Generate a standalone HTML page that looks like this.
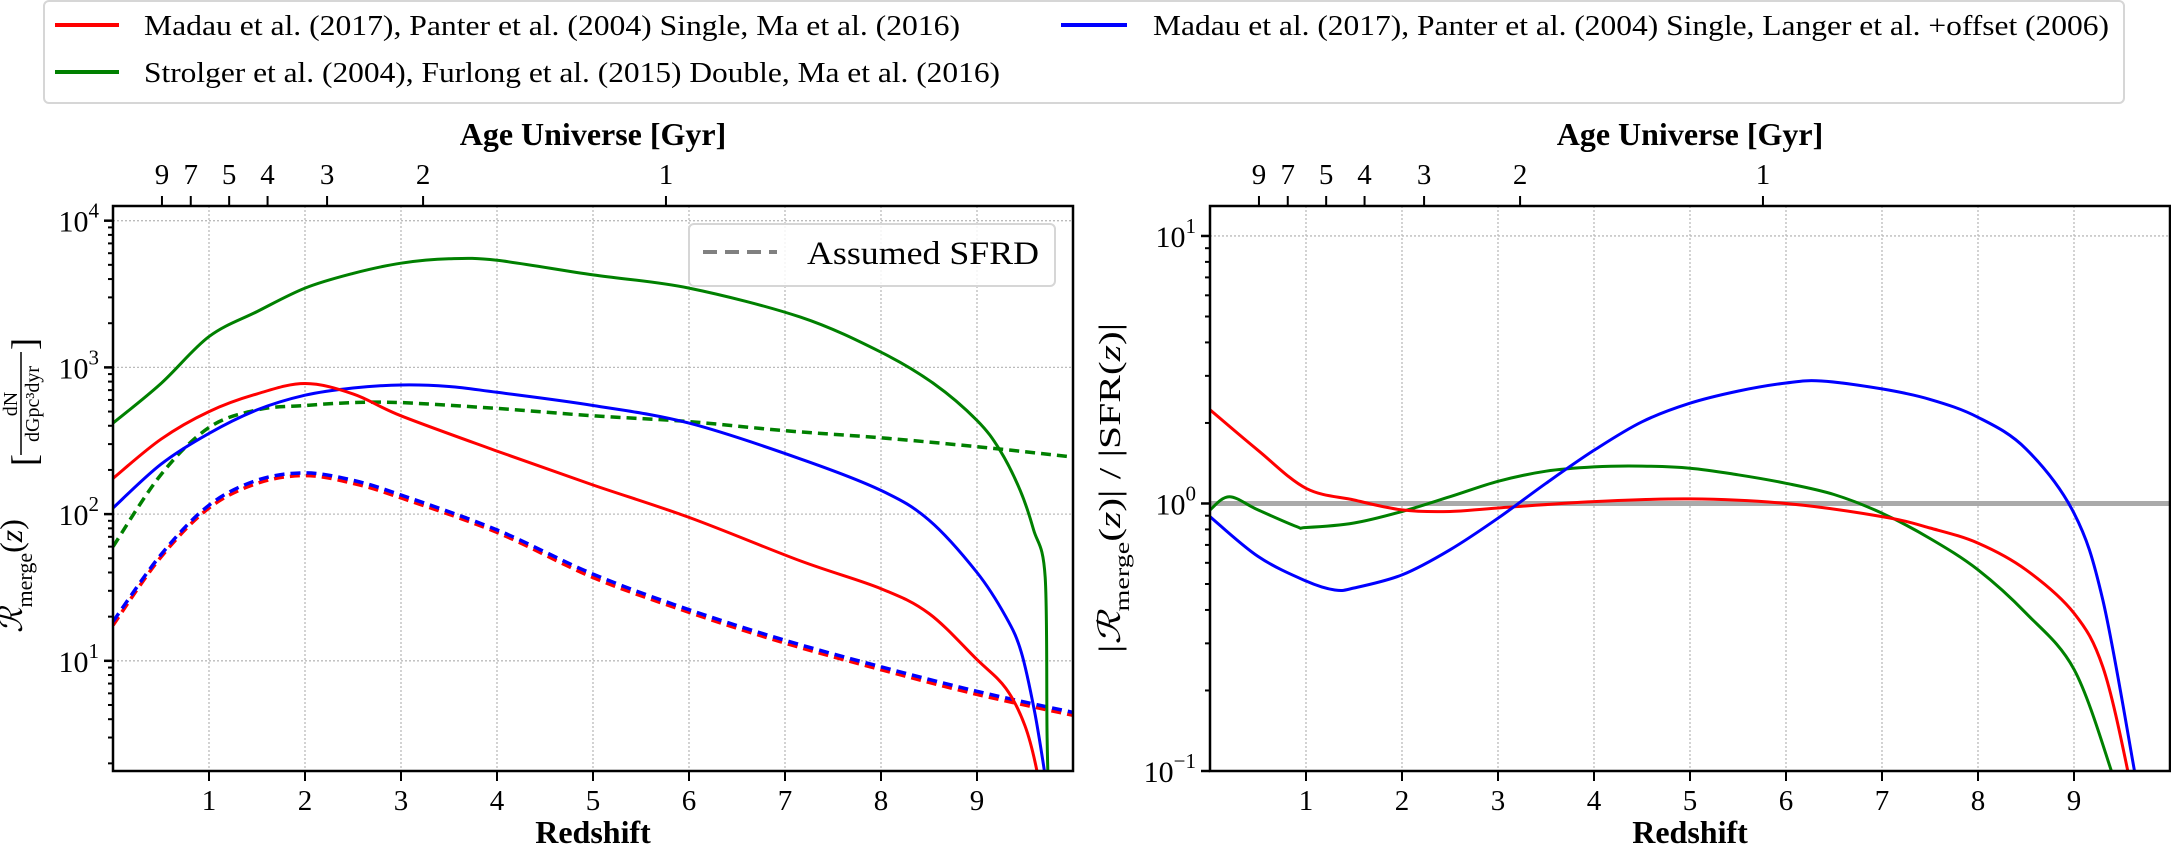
<!DOCTYPE html>
<html><head><meta charset="utf-8"><style>
html,body{margin:0;padding:0;background:#fff;}
svg{display:block;font-family:"Liberation Serif","DejaVu Serif",serif;}
</style></head><body>
<svg id="chart" width="2171" height="849" viewBox="0 0 2171 849" xmlns="http://www.w3.org/2000/svg">
<g id="legend-top">
  <rect x="44" y="1" width="2080" height="102" rx="5" fill="#fff" stroke="#d6d6d6" stroke-width="2"/>
  <line x1="55" y1="25" x2="119" y2="25" stroke="#ff0000" stroke-width="4"/>
  <text x="144" y="35" font-size="29" textLength="816" lengthAdjust="spacingAndGlyphs">Madau et al. (2017), Panter et al. (2004) Single, Ma et al. (2016)</text>
  <line x1="55" y1="72" x2="119" y2="72" stroke="#008000" stroke-width="4"/>
  <text x="144" y="82" font-size="29" textLength="856" lengthAdjust="spacingAndGlyphs">Strolger et al. (2004), Furlong et al. (2015) Double, Ma et al. (2016)</text>
  <line x1="1061" y1="25" x2="1127" y2="25" stroke="#0000ff" stroke-width="4"/>
  <text x="1153" y="35" font-size="29" textLength="956" lengthAdjust="spacingAndGlyphs">Madau et al. (2017), Panter et al. (2004) Single, Langer et al. +offset (2006)</text>
</g>
<defs>
  <clipPath id="clipL"><rect x="113" y="206" width="960" height="565"/></clipPath>
  <clipPath id="clipR"><rect x="1210" y="206" width="960" height="565"/></clipPath>
</defs>
<g id="left"></g>
<g id="right"></g>
</svg>
<script>
// ---- data ----
const zTicks = [1,2,3,4,5,6,7,8,9];
const ageLabels = ["9","7","5","4","3","2","1"];
const ageZ = [0.51,0.81,1.21,1.61,2.23,3.23,5.76];
// left panel: merger rates
const zRedSolid = [0,0.5,1,1.5,2,2.5,3,4,5,6,7.16,8,8.5,9,9.3,9.5,9.63,9.7];
const redSolid  = [175,324,500,660,776,660,468,269,158,95,48,31,21,10.2,6.5,3.6,1.7,0.8];
const zBlueSolid = [0,0.5,1,1.5,2,2.5,3,3.5,4,5,6,7.16,8,8.5,9,9.3,9.46,9.6,9.72];
const blueSolid  = [110,219,355,513,646,724,759,741,676,550,417,238,145,91,40,20,11.5,4.5,1.5];
const zGreenSolid = [0,0.5,1,1.5,2,2.5,3,3.5,4,5,6,7.16,8,8.55,9,9.24,9.45,9.59,9.71,9.73,9.75];
const greenSolid  = [417,776,1620,2400,3470,4370,5130,5500,5370,4270,3470,2200,1270,775,435,272,145,78,37,3,1];
const zDash = [0,0.5,1,1.5,2,2.5,3,4,5,6,7,8,9,10];
const greenDash = [60,186,389,513,550,575,575,525,468,427,370,331,288,245];
const redDash   = [17.5,51,110,162,183,162,129,75,37,21.4,13.2,8.7,5.9,4.25];
const blueDash  = [18.5,53,115,170,191,170,135,78,39,22.3,13.8,9.1,6.2,4.45];
// right panel: ratio to SFR
const zRedRatio = [0,0.5,1,1.5,2,2.5,3,4,5,6,7,7.5,8,8.5,9,9.3,9.56,9.7];
const redRatio  = [2.24,1.58,1.14,1.03,0.946,0.933,0.962,1.016,1.04,1.0,0.893,0.81,0.711,0.565,0.389,0.245,0.1,0.05];
const zGreenRatio = [0,0.2,0.5,0.9,1,1.5,2,2.5,3,3.5,4,4.5,5,5.5,6,6.5,7,7.5,8,8.5,9,9.39,9.5];
const greenRatio  = [0.946,1.06,0.946,0.82,0.813,0.845,0.933,1.06,1.21,1.32,1.37,1.38,1.355,1.28,1.19,1.08,0.92,0.74,0.565,0.389,0.24,0.1,0.07];
const zBlueRatio = [0,0.5,1,1.3,1.5,2,2.5,3,3.5,4,4.5,5,5.5,6,6.37,7,7.5,8,8.5,9,9.3,9.63,9.7];
const blueRatio  = [0.893,0.634,0.513,0.475,0.483,0.541,0.671,0.881,1.19,1.58,2.02,2.37,2.63,2.82,2.87,2.68,2.45,2.1,1.6,0.92,0.436,0.1,0.07];
const leftDecades = [1,2,3,4];
const rightDecades = [-1,0,1];

const NS="http://www.w3.org/2000/svg";
function mk(parent,tag,attrs,txt){const e=document.createElementNS(NS,tag);for(const k in attrs)e.setAttribute(k,attrs[k]);if(txt!==undefined)e.textContent=txt;parent.appendChild(e);return e;}

function makeAxes(g,x0,x1,y0,y1,lmin,lmax){
  const sx=z=>x0+(z-0)/(10-0)*(x1-x0);
  const sy=v=>y1-(Math.log10(v)-lmin)/(lmax-lmin)*(y1-y0);
  return {sx,sy};
}
function pathFrom(zs,vs,sx,sy){
  const p=zs.map((z,i)=>[sx(z),sy(vs[i])]);
  let d="M"+p[0][0].toFixed(1)+","+p[0][1].toFixed(1);
  for(let i=0;i<p.length-1;i++){
    const p0=p[Math.max(i-1,0)],p1=p[i],p2=p[i+1],p3=p[Math.min(i+2,p.length-1)];
    const c1=[p1[0]+(p2[0]-p0[0])/6,p1[1]+(p2[1]-p0[1])/6];
    const c2=[p2[0]-(p3[0]-p1[0])/6,p2[1]-(p3[1]-p1[1])/6];
    d+=" C"+c1[0].toFixed(1)+","+c1[1].toFixed(1)+" "+c2[0].toFixed(1)+","+c2[1].toFixed(1)+" "+p2[0].toFixed(1)+","+p2[1].toFixed(1);
  }
  return d;
}
function decorate(g,x0,x1,y0,y1,sx,sy,decades,lmin,lmax,clip){
  zTicks.forEach(z=>{
    const l=mk(g,"line",{x1:sx(z),x2:sx(z),y1:y0,y2:y1,stroke:"#bbb","stroke-width":1.3,"stroke-dasharray":"2,2"});
    
    
  });
  decades.forEach(dd=>{
    const y=sy(Math.pow(10,dd)); if(y<y0-1||y>y1+1) return;
    const l=mk(g,"line",{x1:x0,x2:x1,y1:y,y2:y,stroke:"#bbb","stroke-width":1.3,"stroke-dasharray":"2,2"});
    
    
  });
  for(let dd=Math.floor(lmin);dd<=Math.ceil(lmax);dd++){
    for(let m=1;m<10;m++){
      const v=m*Math.pow(10,dd); const y=sy(v);
      if(y<y0-0.5||y>y1+0.5) continue;
      const len=m===1?9:5;
      const t=mk(g,"line",{x1:x0-len,x2:x0,y1:y,y2:y,stroke:"#000","stroke-width":m===1?2.5:2});
      
      
      if(m===1){
        const tx=mk(g,"text",{x:x0-14,y:y+11,"font-size":30,"text-anchor":"end"});
        
        
        mk(tx,"tspan",{},"10");
        mk(tx,"tspan",{dy:-14,"font-size":21},dd<0?"\u2212"+(-dd):String(dd));
      }
    }
  }
  zTicks.forEach(z=>{
    const t=mk(g,"line",{x1:sx(z),x2:sx(z),y1:y1,y2:y1+10,stroke:"#000","stroke-width":2});
    
    
    const tx=mk(g,"text",{x:sx(z),y:y1+39,"font-size":29,"text-anchor":"middle"},String(z));
    
    
  });
  ageZ.forEach((z,i)=>{
    const t=mk(g,"line",{x1:sx(z),x2:sx(z),y1:y0,y2:y0-10,stroke:"#000","stroke-width":2});
    
    
    const tx=mk(g,"text",{x:sx(z),y:y0-22,"font-size":29,"text-anchor":"middle"},ageLabels[i]);
    
    
  });
  const at=mk(g,"text",{x:(x0+x1)/2,y:145,"font-size":32,"font-weight":"bold","text-anchor":"middle"},"Age Universe [Gyr]");
  
  
  const xt=mk(g,"text",{x:(x0+x1)/2,y:843,"font-size":32,"font-weight":"bold","text-anchor":"middle"},"Redshift");
  
  
}
function frame(g,x0,x1,y0,y1){
  const r=mk(g,"rect",{x:x0,y:y0,width:x1-x0,height:y1-y0,fill:"none",stroke:"#000","stroke-width":2.5});
  
  
}
function series(g,zs,vs,sx,sy,color,dash,clip,name,w){
  const p=mk(g,"path",{d:pathFrom(zs,vs,sx,sy),fill:"none",stroke:color,"stroke-width":w||3,"clip-path":"url(#"+clip+")","stroke-linejoin":"round"});
  if(dash) p.setAttribute("stroke-dasharray",dash);
  
  
}

// LEFT
(function(){
  const g=document.getElementById("left");
  const x0=113,x1=1073,y0=206,y1=771;
  const lmin=0.249,lmax=4.1;
  const {sx,sy}=makeAxes(g,x0,x1,y0,y1,lmin,lmax);
  decorate(g,x0,x1,y0,y1,sx,sy,leftDecades,lmin,lmax,"clipL");
  series(g,zDash,greenDash,sx,sy,"#008000","10,6","clipL","line-green-sfrd",3.5);
  series(g,zDash,redDash,sx,sy,"#ff0000","10,6","clipL","line-red-sfrd",3.5);
  series(g,zDash,blueDash,sx,sy,"#0000ff","10,6","clipL","line-blue-sfrd",3.5);
  series(g,zGreenSolid,greenSolid,sx,sy,"#008000",null,"clipL","line-green-merger");
  series(g,zBlueSolid,blueSolid,sx,sy,"#0000ff",null,"clipL","line-blue-merger");
  series(g,zRedSolid,redSolid,sx,sy,"#ff0000",null,"clipL","line-red-merger");
  frame(g,x0,x1,y0,y1);
  const lg=mk(g,"g",{});
  
  
  mk(lg,"rect",{x:689,y:224,width:366,height:62,rx:5,fill:"#fff","fill-opacity":0.85,stroke:"#d6d6d6","stroke-width":2});
  mk(lg,"line",{x1:703,x2:777,y1:252,y2:252,stroke:"#808080","stroke-width":4,"stroke-dasharray":"14,8"});
  mk(lg,"text",{x:807,y:264,"font-size":33,textLength:232,lengthAdjust:"spacingAndGlyphs"},"Assumed SFRD");
  const yl=mk(g,"g",{transform:"rotate(-90)"});
  
  
  const t=mk(yl,"text",{x:-633,y:22,"font-size":32,"font-style":"italic"});
  mk(t,"tspan",{},"\u211B");
  mk(t,"tspan",{dy:10,"font-size":22,"font-style":"normal"},"merge");
  mk(t,"tspan",{dy:-10,"font-style":"normal"},"(");
  mk(t,"tspan",{},"z");
  mk(t,"tspan",{"font-style":"normal"},")");
  mk(yl,"text",{x:-466,y:36,"font-size":36},"[");
  mk(yl,"text",{x:-404,y:17,"font-size":20,"text-anchor":"middle"},"dN");
  mk(yl,"line",{x1:-455,x2:-352,y1:21,y2:21,stroke:"#000","stroke-width":1.5});
  mk(yl,"text",{x:-404,y:39,"font-size":20,"text-anchor":"middle"},"dGpc\u00B3dyr");
  mk(yl,"text",{x:-350,y:36,"font-size":36},"]");
})();

// RIGHT
(function(){
  const g=document.getElementById("right");
  const x0=1210,x1=2170,y0=206,y1=771;
  const lmin=-1,lmax=1.112;
  const {sx,sy}=makeAxes(g,x0,x1,y0,y1,lmin,lmax);
  decorate(g,x0,x1,y0,y1,sx,sy,rightDecades,lmin,lmax,"clipR");
  const ref=mk(g,"line",{x1:x0,x2:x1,y1:sy(1),y2:sy(1),stroke:"#aaaaaa","stroke-width":5});
  
  
  series(g,zGreenRatio,greenRatio,sx,sy,"#008000",null,"clipR","ratio-green");
  series(g,zRedRatio,redRatio,sx,sy,"#ff0000",null,"clipR","ratio-red");
  series(g,zBlueRatio,blueRatio,sx,sy,"#0000ff",null,"clipR","ratio-blue");
  frame(g,x0,x1,y0,y1);
  const yl=mk(g,"g",{transform:"rotate(-90)"});
  
  
  const t=mk(yl,"text",{x:-488,y:1120,"font-size":31,"text-anchor":"middle",textLength:330,lengthAdjust:"spacingAndGlyphs"});
  mk(t,"tspan",{},"|");
  mk(t,"tspan",{"font-style":"italic"},"\u211B");
  mk(t,"tspan",{dy:9,"font-size":21},"merge");
  mk(t,"tspan",{dy:-9},"(");
  mk(t,"tspan",{"font-style":"italic"},"z");
  mk(t,"tspan",{},")|   /   |SFR(");
  mk(t,"tspan",{"font-style":"italic"},"z");
  mk(t,"tspan",{},")|");
})();
</script>
</body></html>
